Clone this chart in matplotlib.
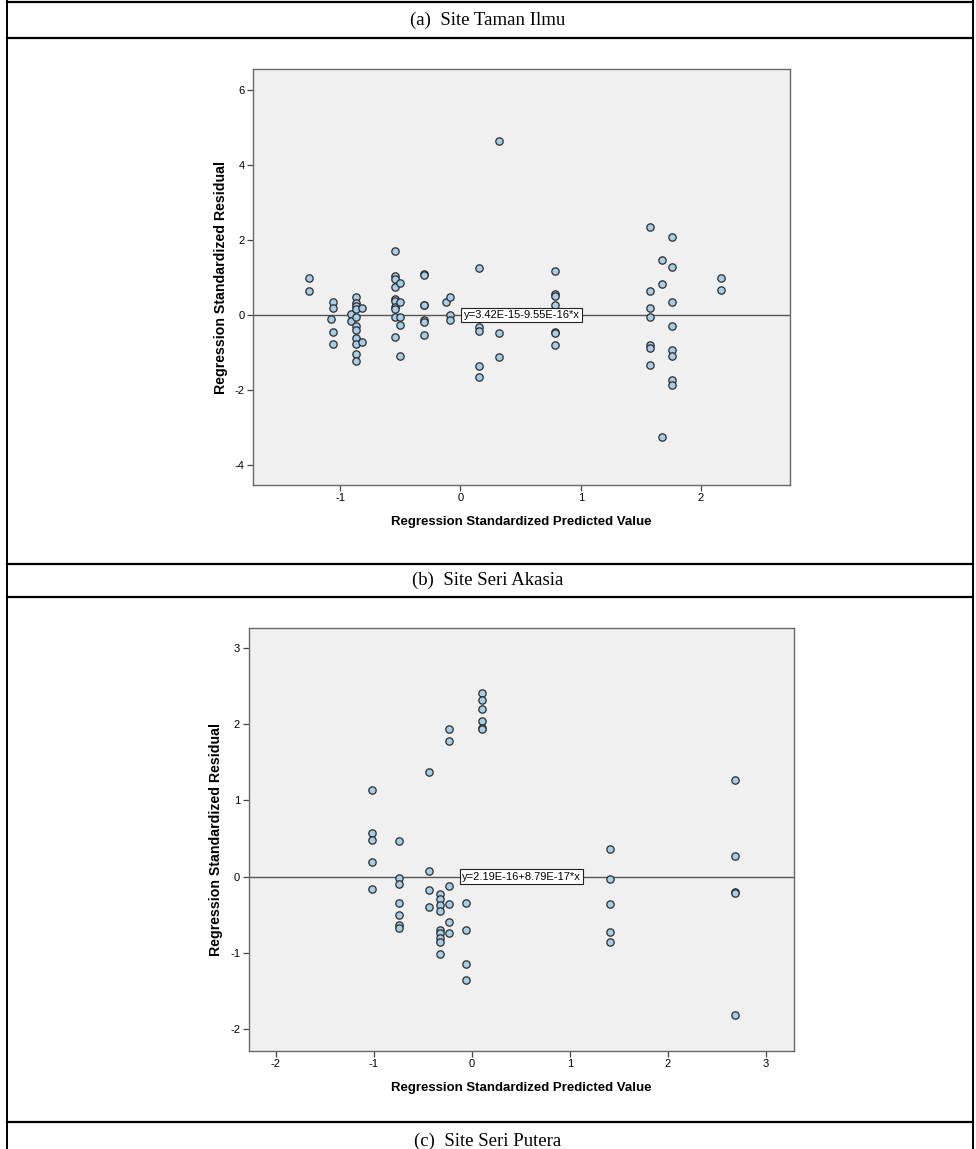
import matplotlib
matplotlib.use("Agg")
import matplotlib.pyplot as plt
from matplotlib.lines import Line2D

# residual plots, two sites, values

W, H = 976, 1149

panel_titles = ["(a)  Site Taman Ilmu", "(b)  Site Seri Akasia", "(c)  Site Seri Putera"]
fit_labels = ["y=3.42E-15-9.55E-16*x", "y=2.19E-16+8.79E-17*x"]
xlabel = "Regression Standardized Predicted Value"
ylabel = "Regression Standardized Residual"

# (a) Taman Ilmu
ilmu_pred = ([-1.26] * 2 + [-1.06] * 4 + [-1.08] + [-0.91] * 2 + [-0.866] * 11 + [-0.816] * 2
             + [-0.542] * 10 + [-0.503] * 5 + [-0.303] * 7 + [-0.121] + [-0.09] * 3
             + [0.151] * 5 + [0.32] * 3 + [0.786] * 7 + [1.573] * 7 + [1.675] * 3
             + [1.756] * 8 + [2.168] * 2)
ilmu_resid = [1.00, 0.63,
              0.34, 0.18, -0.46, -0.77,
              -0.10,
              0.03, -0.16,
              0.49, 0.33, 0.24, 0.15, -0.04, -0.28, -0.40, -0.60, -0.76, -1.03, -1.23,
              0.18, -0.71,
              1.71, 1.04, 0.97, 0.74, 0.43, 0.38, 0.22, 0.15, -0.06, -0.58,
              0.86, 0.35, -0.05, -0.27, -1.10,
              1.10, 1.06, 0.28, 0.26, -0.13, -0.18, -0.52,
              0.36,
              0.47, -0.01, -0.12,
              1.25, -0.33, -0.43, -1.35, -1.65,
              4.64, -0.49, -1.11,
              1.18, 0.56, 0.52, 0.27, -0.44, -0.49, -0.80,
              2.34, 0.64, 0.19, -0.06, -0.80, -0.88, -1.32,
              1.47, 0.84, -3.26,
              2.07, 1.28, 0.34, -0.29, -0.92, -1.08, -1.74, -1.87,
              0.98, 0.66]

# (b) Seri Akasia
akasia_pred = ([-1.02] * 5 + [-0.742] * 7 + [-0.432] * 4 + [-0.327] * 9 + [-0.235] * 6
               + [-0.058] * 4 + [0.109] * 6 + [1.411] * 5 + [2.687] * 5)
akasia_resid = [1.13, 0.57, 0.48, 0.19, -0.16,
                0.46, -0.02, -0.10, -0.35, -0.50, -0.64, -0.67,
                1.37, 0.08, -0.17, -0.40,
                -0.23, -0.29, -0.37, -0.45, -0.70, -0.74, -0.80, -0.85, -1.01,
                1.93, 1.77, -0.12, -0.36, -0.60, -0.74,
                -0.35, -0.70, -1.15, -1.35,
                2.41, 2.31, 2.20, 2.04, 1.94, 1.93,
                0.36, -0.03, -0.36, -0.73, -0.86,
                1.27, 0.27, -0.20, -0.21, -1.81]

ilmu_xticks = [-1, 0, 1, 2]
ilmu_yticks = [-4, -2, 0, 2, 4, 6]
akasia_xticks = [-2, -1, 0, 1, 2, 3]
akasia_yticks = [-2, -1, 0, 1, 2, 3]

narrow = ["Liberation Sans Narrow", "Liberation Sans", "DejaVu Sans"]
sans = ["Liberation Sans", "DejaVu Sans"]
serif = ["Liberation Serif", "DejaVu Serif"]


def fx(px):
    return px / W


def fy(py):
    return 1 - py / H


def residual_plot(rect, pred, resid, xlim, ylim, xticks, yticks, label):
    l, t, r, b = rect
    ax = fig.add_axes([fx(l), fy(b), (r - l) / W, (b - t) / H])
    ax.set_facecolor("#f0f0f0")
    ax.axhline(0, color="#555555", lw=1.0, zorder=1)
    ax.scatter(pred, resid, s=28, facecolor="#a6cee8", edgecolor="#2b2b2b",
               linewidth=0.9, zorder=3)
    ax.set_xlim(*xlim)
    ax.set_ylim(*ylim)
    ax.set_xticks(xticks)
    ax.set_yticks(yticks)
    ax.set_xticklabels([str(v) for v in xticks], family=narrow, fontsize=8)
    ax.set_yticklabels([str(v) for v in yticks], family=narrow, fontsize=8)
    ax.tick_params(direction="out", length=4, width=0.9, color="#444444", pad=2)
    for s in ax.spines.values():
        s.set_color("#6a6a6a")
        s.set_linewidth(1.0)
    ax.set_xlabel(xlabel, family=narrow, fontweight="bold", fontsize=9.5, labelpad=9)
    ax.set_ylabel(ylabel, family=sans, fontweight="bold", fontsize=10.2, labelpad=5)
    # fit line label sits on the zero line, centred across the axes
    ax.text(0.5, 0, label, transform=ax.get_yaxis_transform(), ha="center", va="center",
            family=narrow, fontsize=8, zorder=4,
            bbox=dict(boxstyle="square,pad=0.2", facecolor="white", edgecolor="#222222", linewidth=0.8))
    return ax


fig = plt.figure(figsize=(W / 100, H / 100), dpi=100)

residual_plot((253, 69, 790, 485), ilmu_pred, ilmu_resid, (-1.725, 2.74), (-4.53, 6.56),
              ilmu_xticks, ilmu_yticks, fit_labels[0])
residual_plot((248.5, 627.7, 794, 1050.7), akasia_pred, akasia_resid, (-2.28, 3.29), (-2.28, 3.26),
              akasia_xticks, akasia_yticks, fit_labels[1])

# table rules around the panels
for py in [1.5, 38, 564, 597, 1122]:
    fig.add_artist(Line2D([fx(7), fx(973)], [fy(py), fy(py)], color="black", lw=1.6))
for px in [7, 973]:
    fig.add_artist(Line2D([fx(px), fx(px)], [0, 1], color="black", lw=1.4))

for py, t in zip([20, 580, 1141], panel_titles):
    fig.text(0.5, fy(py), t, ha="center", va="center", family=serif, fontsize=13.5)

fig.savefig("out.png", dpi=100)
